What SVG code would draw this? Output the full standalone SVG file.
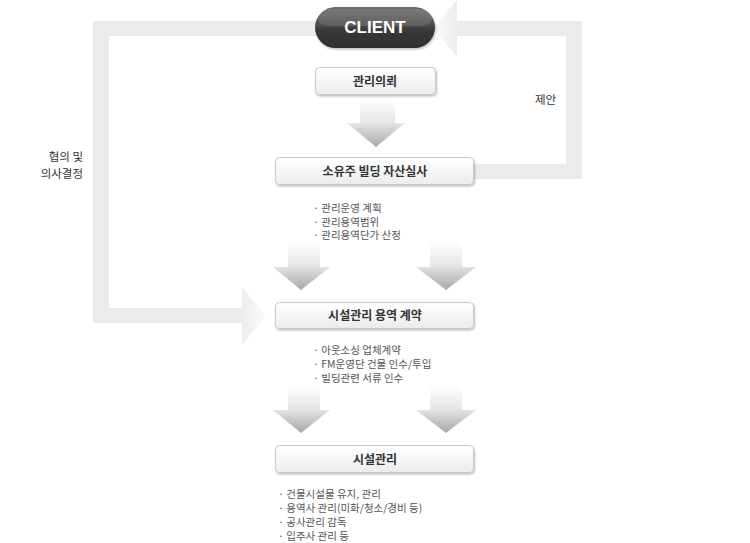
<svg xmlns="http://www.w3.org/2000/svg" width="750" height="543" viewBox="0 0 750 543">
<defs>
<linearGradient id="pill" x1="0" y1="0" x2="0" y2="1">
<stop offset="0" stop-color="#6a6a6a"/>
<stop offset="0.45" stop-color="#4a4a4a"/>
<stop offset="0.55" stop-color="#3a3a3a"/>
<stop offset="1" stop-color="#2e2e2e"/>
</linearGradient>
<linearGradient id="box" x1="0" y1="0" x2="0" y2="1">
<stop offset="0" stop-color="#ffffff"/>
<stop offset="1" stop-color="#ececec"/>
</linearGradient>
<linearGradient id="down" x1="0" y1="0" x2="0" y2="1">
<stop offset="0" stop-color="#ffffff"/>
<stop offset="0.5" stop-color="#e4e4e4"/>
<stop offset="1" stop-color="#a8a8a8"/>
</linearGradient>
<linearGradient id="sideR" x1="0" y1="0" x2="1" y2="0">
<stop offset="0" stop-color="#fbfbfb"/>
<stop offset="1" stop-color="#ececec"/>
</linearGradient>
<linearGradient id="sideL" x1="1" y1="0" x2="0" y2="0">
<stop offset="0" stop-color="#fbfbfb"/>
<stop offset="1" stop-color="#ececec"/>
</linearGradient>
<filter id="sh" x="-10%" y="-20%" width="120%" height="160%">
<feDropShadow dx="1" dy="1.5" stdDeviation="1" flood-color="#000" flood-opacity="0.25"/>
</filter>
</defs>
<style>
.band{fill:#ebebeb}
.node{fill:url(#box);stroke:#c8c8c8;stroke-width:1}
.lbl{font-family:"Noto Sans CJK KR","Liberation Sans",sans-serif;font-size:12px;font-weight:bold;fill:#333;text-anchor:middle}
.bul{font-family:"Noto Sans CJK KR","Liberation Sans",sans-serif;font-size:10.5px;fill:#555}
.side{font-family:"Noto Sans CJK KR","Liberation Sans",sans-serif;font-size:11.5px;fill:#333}
.arr{fill:url(#down)}
</style>
<g id="connectors">
<path class="band" d="M93 21H320V36H109V308H246V323H93Z"/>
<path fill="url(#sideL)" d="M242 287L266 316L242 345Z"/>
<path class="band" d="M455 21H582V179H470V164H566V36H455Z"/>
<path fill="url(#sideR)" d="M457 0L433 28L457 57Z"/>
<path class="arr" d="M360 100H395V123H405L376 147L347 123H360Z"/>
<path class="arr" d="M288 242H320V267H330L301 290L273 267H288Z"/>
<path class="arr" d="M430 242H462V267H476L446 290L416 267H430Z"/>
<path class="arr" d="M288 386H320V410H330L301 433L273 410H288Z"/>
<path class="arr" d="M430 386H462V410H476L446 433L416 410H430Z"/>
</g>
<g id="client">
<rect x="315" y="7" width="120" height="41" rx="20.5" fill="url(#pill)" filter="url(#sh)"/>
<rect x="318" y="9" width="114" height="17" rx="8.5" fill="#ffffff" opacity="0.12"/>
<text x="375" y="33" font-family="Liberation Sans,Arial,sans-serif" font-size="17" font-weight="bold" fill="#ffffff" text-anchor="middle">CLIENT</text>
</g>
<g id="n1">
<rect class="node" x="315.5" y="67.5" width="120" height="27" rx="4" filter="url(#sh)"/>
<text class="lbl" x="375" y="86">관리의뢰</text>
</g>
<g id="n2">
<rect class="node" x="275.5" y="157.5" width="198" height="27" rx="4" filter="url(#sh)"/>
<text class="lbl" x="375" y="176">소유주 빌딩 자산실사</text>
</g>
<g id="n2notes">
<text class="bul" x="313" y="212">· 관리운영 계획</text>
<text class="bul" x="313" y="225.5">· 관리용역범위</text>
<text class="bul" x="313" y="239">· 관리용역단가 산정</text>
</g>
<g id="n3">
<rect class="node" x="275.5" y="302.5" width="198" height="26" rx="4" filter="url(#sh)"/>
<text class="lbl" x="375" y="320">시설관리 용역 계약</text>
</g>
<g id="n3notes">
<text class="bul" x="313" y="354">· 아웃소싱 업체계약</text>
<text class="bul" x="313" y="368">· FM운영단 건물 인수/투입</text>
<text class="bul" x="313" y="382">· 빌딩관련 서류 인수</text>
</g>
<g id="n4">
<rect class="node" x="275.5" y="445.5" width="198" height="27" rx="4" filter="url(#sh)"/>
<text class="lbl" x="375" y="464">시설관리</text>
</g>
<g id="n4notes">
<text class="bul" x="278" y="498">· 건물시설물 유지, 관리</text>
<text class="bul" x="278" y="512">· 용역사 관리(미화/청소/경비 등)</text>
<text class="bul" x="278" y="526">· 공사관리 감독</text>
<text class="bul" x="278" y="540">· 입주사 관리 등</text>
</g>
<g id="labels">
<text class="side" x="535" y="104">제안</text>
<text class="side" x="83" y="161" text-anchor="end">협의 및</text>
<text class="side" x="83" y="178" text-anchor="end">의사결정</text>
</g>
</svg>
